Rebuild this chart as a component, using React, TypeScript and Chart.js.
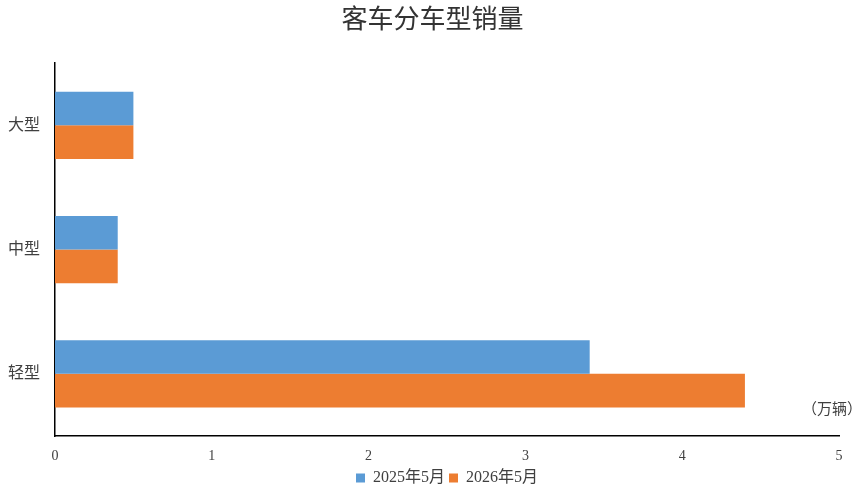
import { useEffect, useRef } from 'react';
import Chart from 'chart.js/auto';

const categories = ['大型', '中型', '轻型'];
const series2025 = [0.5, 0.4, 3.41];
const series2026 = [0.5, 0.4, 4.4];
const seriesNames = ['2025年5月', '2026年5月'];
const unitLabel = '（万辆）';

const fontFamily = '"Liberation Serif", "Noto Sans CJK SC", serif';

const unitPlugin = {
    id: 'unitLabel',
    afterDraw(chart: any) {
        const { ctx, chartArea } = chart;
        ctx.save();
        ctx.font = '15px ' + fontFamily;
        ctx.fillStyle = '#404040';
        ctx.textAlign = 'right';
        ctx.textBaseline = 'middle';
        ctx.fillText(unitLabel, chartArea.right + 23, chartArea.bottom - 26);
        ctx.restore();
    },
};

export default function App() {
    const canvasRef = useRef<HTMLCanvasElement | null>(null);

    useEffect(() => {
        document.body.style.margin = '0';
        if (!canvasRef.current) {
            return;
        }

        const chart = new Chart(canvasRef.current, {
            type: 'bar',
            data: {
                labels: categories,
                datasets: [
                    {
                        label: seriesNames[0],
                        data: series2025,
                        backgroundColor: '#5B9BD5',
                    },
                    {
                        label: seriesNames[1],
                        data: series2026,
                        backgroundColor: '#ED7D31',
                    },
                ],
            },
            options: {
                indexAxis: 'y',
                animation: false,
                responsive: true,
                maintainAspectRatio: false,
                layout: {
                    padding: { left: 0, right: 0, top: 4, bottom: -4 },
                },
                datasets: {
                    bar: {
                        categoryPercentage: 0.54,
                        barPercentage: 1,
                    },
                },
                scales: {
                    x: {
                        min: 0,
                        max: 5,
                        afterFit: (scale: any) => {
                            scale.height = 30;
                            scale.paddingRight = 26;
                        },
                        ticks: {
                            stepSize: 1,
                            color: '#404040',
                            font: { size: 14, family: fontFamily },
                            padding: 12,
                        },
                        grid: { display: false, drawTicks: false },
                        border: { display: true, color: '#000', width: 1.5 },
                    },
                    y: {
                        afterFit: (scale: any) => {
                            scale.width = 55;
                        },
                        ticks: {
                            color: '#404040',
                            font: { size: 16, family: fontFamily },
                            padding: 15,
                        },
                        grid: { display: false, drawTicks: false },
                        border: { display: true, color: '#000', width: 1.5 },
                    },
                },
                plugins: {
                    title: {
                        display: true,
                        text: '客车分车型销量',
                        color: '#333',
                        font: { size: 26, weight: 'normal', family: fontFamily },
                        padding: { top: 2, bottom: 26 },
                    },
                    legend: {
                        position: 'bottom',
                        fullSize: false,
                        labels: {
                            boxWidth: 9,
                            boxHeight: 9,
                            color: '#404040',
                            font: { size: 16, family: fontFamily },
                            padding: 4,
                        },
                    },
                    tooltip: { enabled: false },
                },
            },
            plugins: [unitPlugin],
        });
        return () => chart.destroy();
    }, []);

    return (
        <div style={{ width: '865px', height: '492px', background: '#fff' }}>
            <canvas ref={canvasRef} />
        </div>
    );
}
